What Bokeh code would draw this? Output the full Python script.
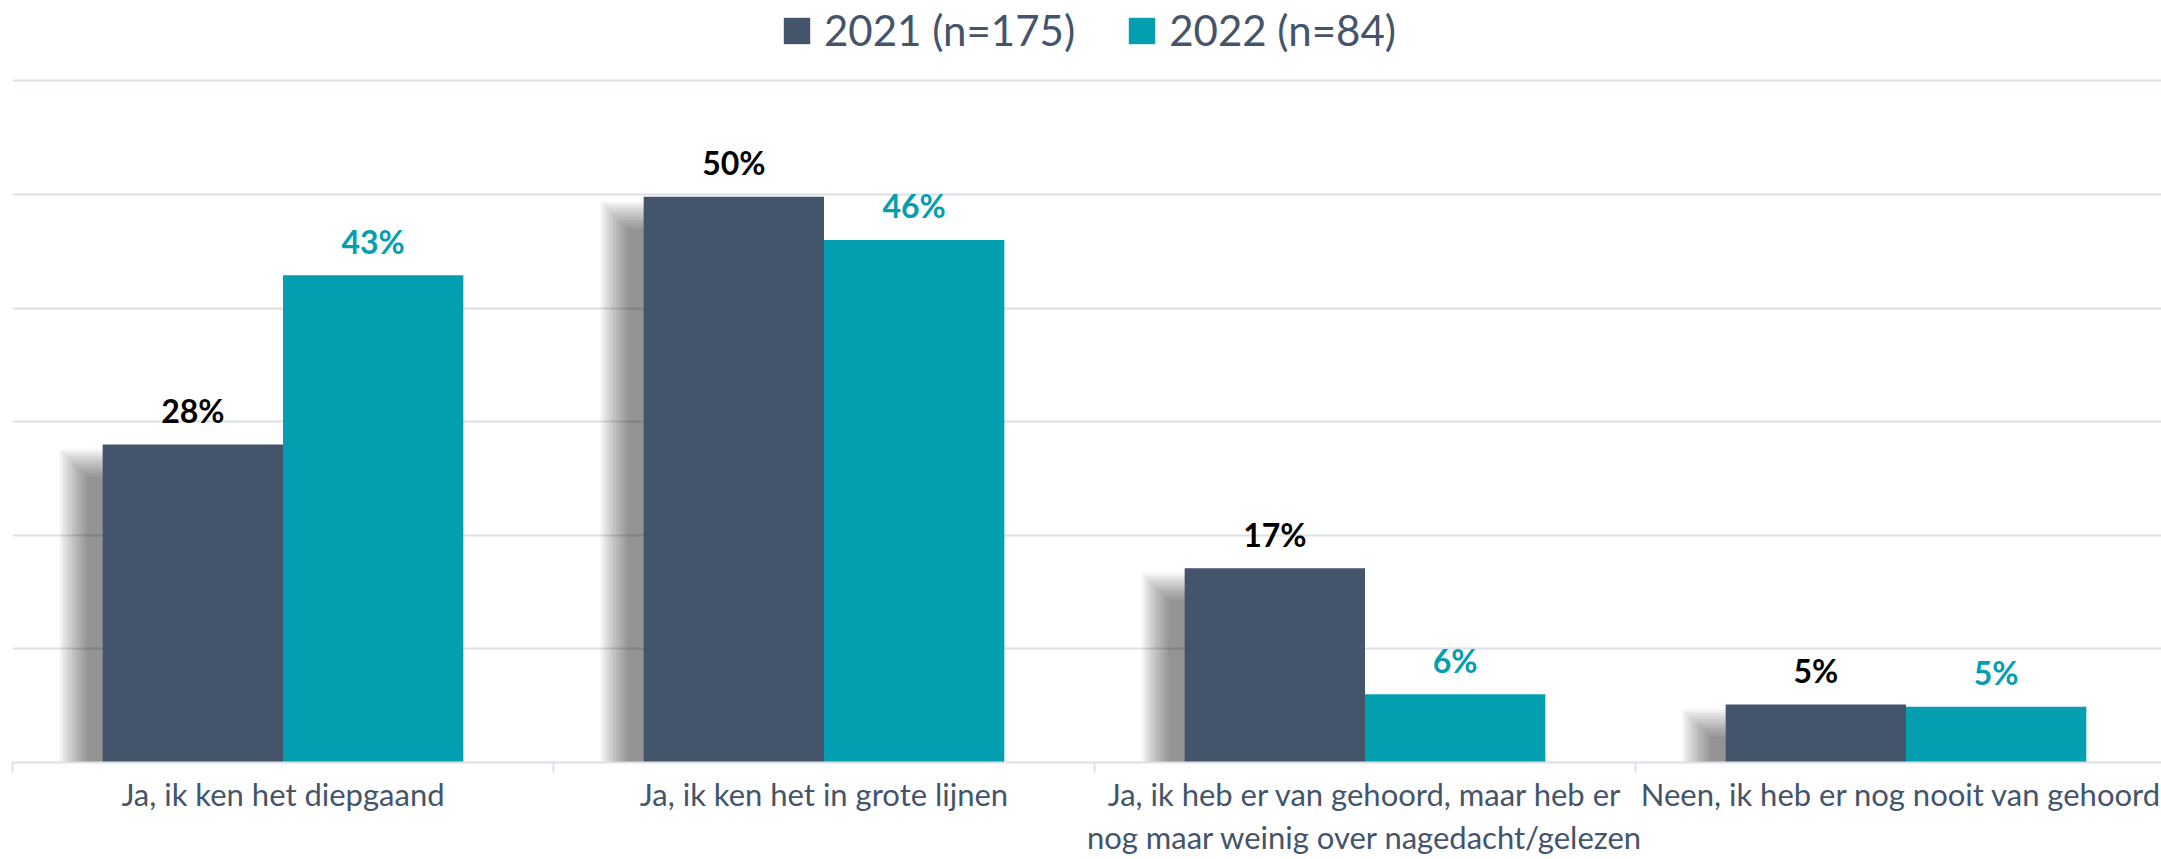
from bokeh.plotting import figure
from bokeh.models import Range1d, FixedTicker, Legend, LegendItem, ColumnDataSource
from bokeh.core.properties import value
from bokeh.embed import file_html
from bokeh.resources import INLINE

# ---- data ----
categories = [
    "Ja, ik ken het diepgaand",
    "Ja, ik ken het in grote lijnen",
    "Ja, ik heb er van gehoord, maar heb er\nnog maar weinig over nagedacht/gelezen",
    "Neen, ik heb er nog nooit van gehoord",
]
series = ["2021 (n=175)", "2022 (n=84)"]
v2021 = [28.0, 49.8, 17.1, 5.1]
v2022 = [42.9, 46.0, 6.0, 4.9]
lab2021 = ["28%", "50%", "17%", "5%"]
lab2022 = ["43%", "46%", "6%", "5%"]
y_ticks = [0, 10, 20, 30, 40, 50, 60]

# ---- style ----
DARK = "#44546A"
TEAL = "#039EB0"
GRID = "#DCE1E8"
FONT = "Lato"

W, H = 2161, 859
BL, BB = 12, 96
frame_w = W - BL
frame_h = H - BB
CAT_PX = 541.0
PX_PER_PCT = 11.374
x_start = -0.5
x_end = x_start + frame_w / CAT_PX
y_end = frame_h / PX_PER_PCT
PXX = 1.0 / CAT_PX
PXY = 1.0 / PX_PER_PCT

p = figure(width=W, height=H, x_range=Range1d(x_start, x_end), y_range=Range1d(0, y_end),
           output_backend="svg", toolbar_location=None, y_axis_location=None,
           min_border_left=BL, min_border_right=0, min_border_top=0, min_border_bottom=BB)
p.outline_line_color = None
p.background_fill_color = "white"
p.border_fill_color = "white"

idx = list(range(len(categories)))
bw = 1.0 / 3.0
x21 = [i - bw / 2 for i in idx]
x22 = [i + bw / 2 for i in idx]

# soft shadow to the left of the 2021 bars
for k in range(10):
    lefts = [x - bw / 2 - (16 + 3 * k) * PXX for x in x21]
    rights = [x - bw / 2 + 2 * PXX for x in x21]
    tops = [v - (32 - 3 * k) * PXY for v in v2021]
    bottoms = [0 for _ in v2021]
    p.quad(left=lefts, right=rights, top=tops, bottom=bottoms,
           fill_color="black", fill_alpha=0.05, line_color=None)

src21 = ColumnDataSource(dict(x=x21, top=v2021, lab=lab2021))
src22 = ColumnDataSource(dict(x=x22, top=v2022, lab=lab2022))
r21 = p.vbar(x="x", top="top", width=bw, source=src21, fill_color=DARK, line_color=None)
r22 = p.vbar(x="x", top="top", width=bw, source=src22, fill_color=TEAL, line_color=None)

p.text(x="x", y="top", text="lab", source=src21, text_color="black",
       text_font=value(FONT), text_font_style="bold", text_font_size="32px",
       text_align="center", text_baseline="alphabetic", y_offset=-34)
p.text(x="x", y="top", text="lab", source=src22, text_color=TEAL,
       text_font=value(FONT), text_font_style="bold", text_font_size="32px",
       text_align="center", text_baseline="alphabetic", y_offset=-34)

# grid
p.xgrid.visible = False
p.ygrid.ticker = FixedTicker(ticks=y_ticks)
p.ygrid.grid_line_color = GRID
p.ygrid.grid_line_width = 2

# x axis
ax = p.xaxis[0]
ax.ticker = FixedTicker(ticks=idx, minor_ticks=[i - 0.5 for i in idx] + [idx[-1] + 0.5])
ax.major_label_overrides = {i: c for i, c in zip(idx, categories)}
ax.axis_line_color = GRID
ax.axis_line_width = 2
ax.major_tick_line_color = None
ax.major_tick_in = 0
ax.major_tick_out = 0
ax.minor_tick_line_color = GRID
ax.minor_tick_line_width = 2
ax.minor_tick_in = 0
ax.minor_tick_out = 10
ax.major_label_standoff = 2
ax.major_label_text_font = FONT
ax.major_label_text_font_size = "31px"
ax.major_label_text_color = DARK
ax.major_label_text_line_height = 1.15

legend = Legend(items=[LegendItem(label=series[0], renderers=[r21]),
                       LegendItem(label=series[1], renderers=[r22])],
                location=(768, frame_h - 56), orientation="horizontal")
legend.glyph_width = 33
legend.glyph_height = 33
legend.label_standoff = 11
legend.spacing = 50
legend.padding = 0
legend.margin = 0
legend.label_text_font = FONT
legend.label_text_font_size = "42px"
legend.label_text_color = DARK
legend.background_fill_alpha = 0
legend.border_line_color = None
p.add_layout(legend)

open("out.html", "w").write(file_html(p, INLINE))
